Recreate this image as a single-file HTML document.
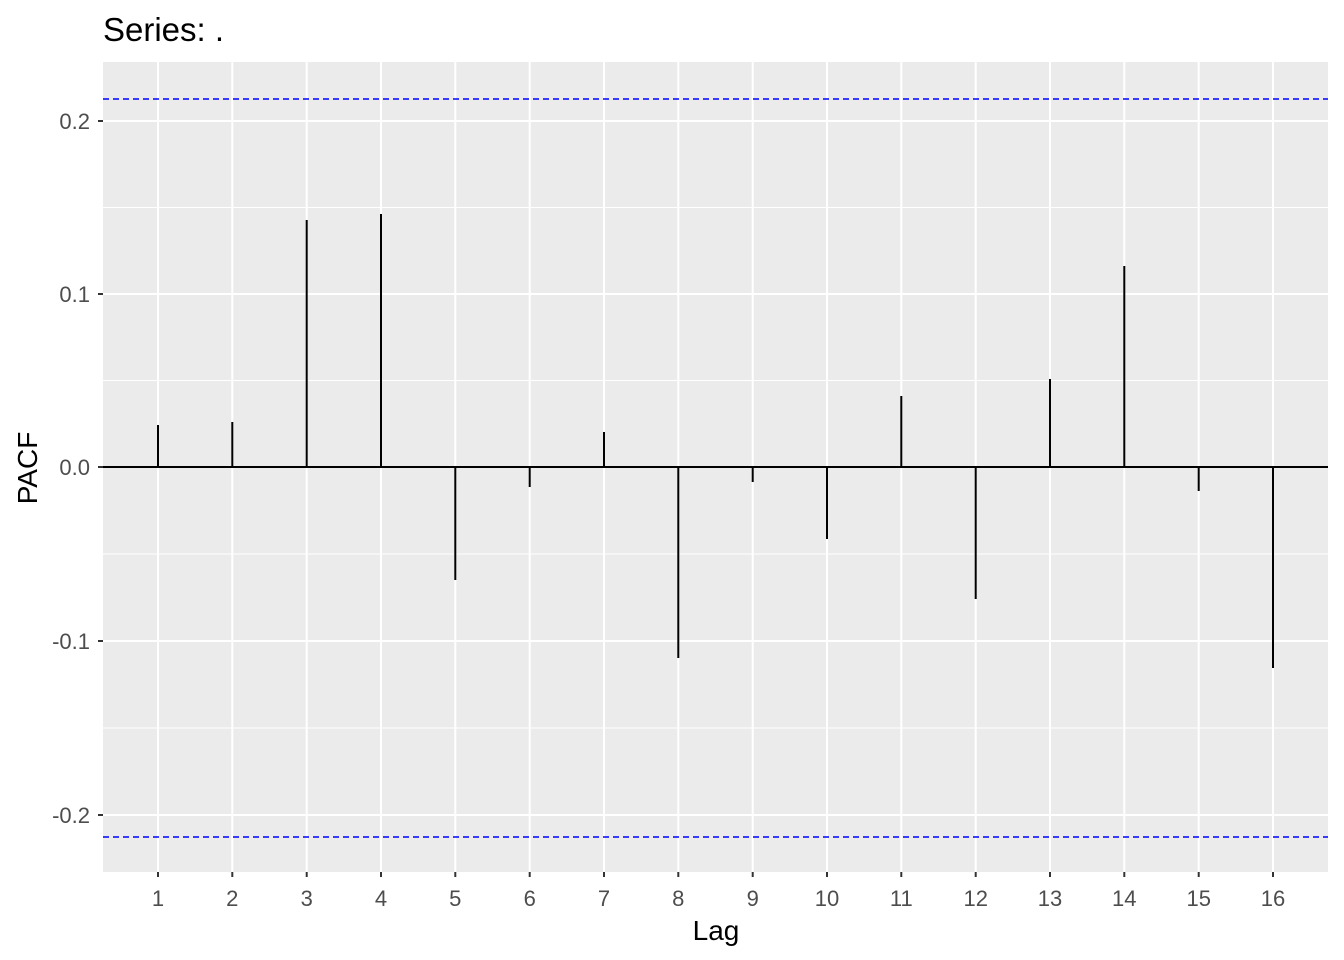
<!DOCTYPE html>
<html><head><meta charset="utf-8"><style>body{margin:0;background:#fff}svg{display:block}</style></head><body>
<svg width="1344" height="960" xmlns="http://www.w3.org/2000/svg" font-family="Liberation Sans, sans-serif">
<rect x="0" y="0" width="1344" height="960" fill="#fff"/>
<rect x="103" y="62" width="1225" height="810" fill="#EBEBEB"/>
<g stroke="#fff" stroke-width="1">
<line x1="103" x2="1328" y1="207.5" y2="207.5"/><line x1="103" x2="1328" y1="380.5" y2="380.5"/>
<line x1="103" x2="1328" y1="554" y2="554"/><line x1="103" x2="1328" y1="728" y2="728"/>
</g>
<g stroke="#fff" stroke-width="2">
<line x1="103" x2="1328" y1="121" y2="121"/><line x1="103" x2="1328" y1="294" y2="294"/>
<line x1="103" x2="1328" y1="467" y2="467"/><line x1="103" x2="1328" y1="641" y2="641"/>
<line x1="103" x2="1328" y1="815" y2="815"/>
<line x1="158" x2="158" y1="62" y2="872"/><line x1="232.3" x2="232.3" y1="62" y2="872"/><line x1="306.7" x2="306.7" y1="62" y2="872"/><line x1="381" x2="381" y1="62" y2="872"/><line x1="455.3" x2="455.3" y1="62" y2="872"/><line x1="529.7" x2="529.7" y1="62" y2="872"/><line x1="604" x2="604" y1="62" y2="872"/><line x1="678.3" x2="678.3" y1="62" y2="872"/><line x1="752.7" x2="752.7" y1="62" y2="872"/><line x1="827" x2="827" y1="62" y2="872"/><line x1="901.3" x2="901.3" y1="62" y2="872"/><line x1="975.7" x2="975.7" y1="62" y2="872"/><line x1="1050" x2="1050" y1="62" y2="872"/><line x1="1124.3" x2="1124.3" y1="62" y2="872"/><line x1="1198.7" x2="1198.7" y1="62" y2="872"/><line x1="1273" x2="1273" y1="62" y2="872"/>
</g>
<line x1="103" x2="1328" y1="467" y2="467" stroke="#000" stroke-width="2"/>
<g stroke="#000" stroke-width="2">
<line x1="158" x2="158" y1="467" y2="425"/><line x1="232.3" x2="232.3" y1="467" y2="422"/><line x1="306.7" x2="306.7" y1="467" y2="220"/><line x1="381" x2="381" y1="467" y2="214"/><line x1="455.3" x2="455.3" y1="467" y2="580"/><line x1="529.7" x2="529.7" y1="467" y2="487"/><line x1="604" x2="604" y1="467" y2="432"/><line x1="678.3" x2="678.3" y1="467" y2="658"/><line x1="752.7" x2="752.7" y1="467" y2="482"/><line x1="827" x2="827" y1="467" y2="539"/><line x1="901.3" x2="901.3" y1="467" y2="396"/><line x1="975.7" x2="975.7" y1="467" y2="599"/><line x1="1050" x2="1050" y1="467" y2="379"/><line x1="1124.3" x2="1124.3" y1="467" y2="266"/><line x1="1198.7" x2="1198.7" y1="467" y2="491"/><line x1="1273" x2="1273" y1="467" y2="668"/>
</g>
<g stroke="#0000FF" stroke-width="1.5" stroke-dasharray="6,4">
<line x1="103" x2="1328" y1="99" y2="99"/><line x1="103" x2="1328" y1="837" y2="837"/>
</g>
<g stroke="#333" stroke-width="2">
<line x1="98" x2="103" y1="121" y2="121"/><line x1="98" x2="103" y1="294" y2="294"/><line x1="98" x2="103" y1="467" y2="467"/><line x1="98" x2="103" y1="641" y2="641"/><line x1="98" x2="103" y1="815" y2="815"/>
<line x1="158" x2="158" y1="872" y2="877"/><line x1="232.3" x2="232.3" y1="872" y2="877"/><line x1="306.7" x2="306.7" y1="872" y2="877"/><line x1="381" x2="381" y1="872" y2="877"/><line x1="455.3" x2="455.3" y1="872" y2="877"/><line x1="529.7" x2="529.7" y1="872" y2="877"/><line x1="604" x2="604" y1="872" y2="877"/><line x1="678.3" x2="678.3" y1="872" y2="877"/><line x1="752.7" x2="752.7" y1="872" y2="877"/><line x1="827" x2="827" y1="872" y2="877"/><line x1="901.3" x2="901.3" y1="872" y2="877"/><line x1="975.7" x2="975.7" y1="872" y2="877"/><line x1="1050" x2="1050" y1="872" y2="877"/><line x1="1124.3" x2="1124.3" y1="872" y2="877"/><line x1="1198.7" x2="1198.7" y1="872" y2="877"/><line x1="1273" x2="1273" y1="872" y2="877"/>
</g>
<g fill="#4D4D4D" font-size="22" text-anchor="end">
<text x="90" y="129">0.2</text><text x="90" y="302">0.1</text><text x="90" y="475">0.0</text><text x="90" y="649">-0.1</text><text x="90" y="823">-0.2</text>
</g>
<g fill="#4D4D4D" font-size="22" text-anchor="middle">
<text x="158" y="906">1</text><text x="232.3" y="906">2</text><text x="306.7" y="906">3</text><text x="381" y="906">4</text><text x="455.3" y="906">5</text><text x="529.7" y="906">6</text><text x="604" y="906">7</text><text x="678.3" y="906">8</text><text x="752.7" y="906">9</text><text x="827" y="906">10</text><text x="901.3" y="906">11</text><text x="975.7" y="906">12</text><text x="1050" y="906">13</text><text x="1124.3" y="906">14</text><text x="1198.7" y="906">15</text><text x="1273" y="906">16</text>
</g>
<text x="716" y="940" font-size="28" text-anchor="middle" fill="#000">Lag</text>
<text transform="translate(37,468) rotate(-90)" font-size="28" text-anchor="middle" fill="#000">PACF</text>
<text x="103" y="41" font-size="33" fill="#000">Series: .</text>
</svg>
</body></html>
